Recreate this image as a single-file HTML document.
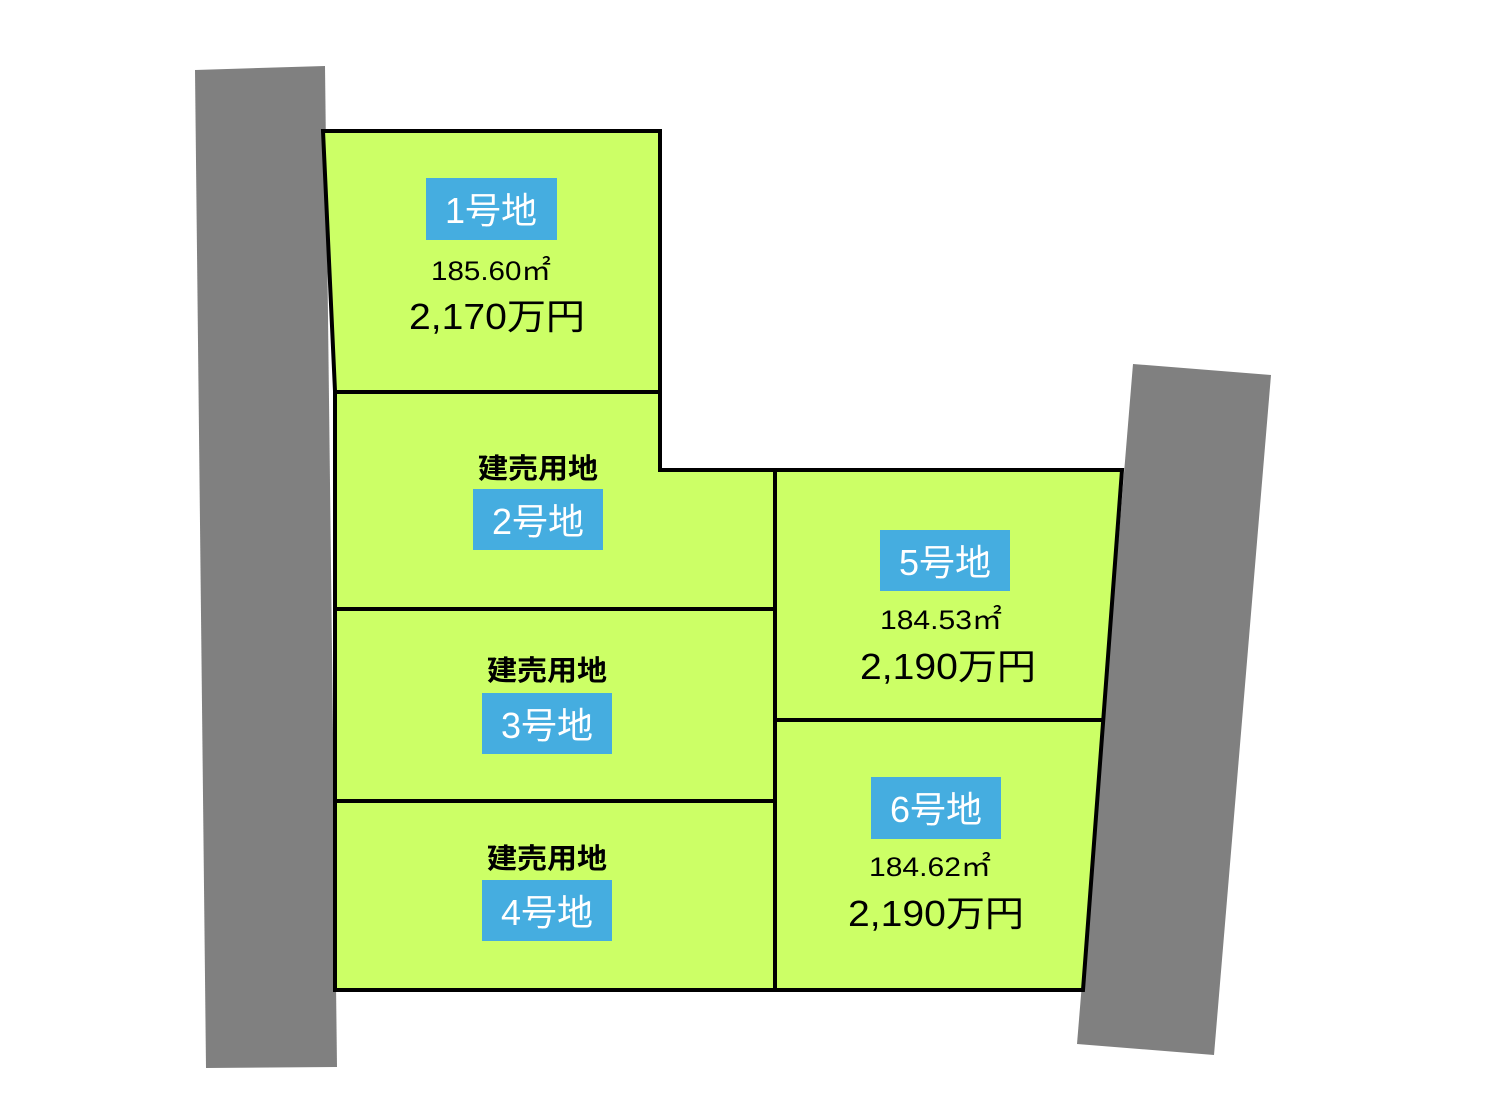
<!DOCTYPE html>
<html><head><meta charset="utf-8"><style>
html,body{margin:0;padding:0;background:#fff;}
svg{display:block;}
text{font-family:"Liberation Sans","Noto Sans CJK JP",sans-serif;}
</style></head><body>
<svg width="1500" height="1119" viewBox="0 0 1500 1119" xmlns="http://www.w3.org/2000/svg">
<rect width="1500" height="1119" fill="#fff"/>
<polygon points="195,70 325,66 337,1067 206,1068" fill="#808080"/>
<polygon points="1133,364 1271,375 1214,1055 1077,1044" fill="#808080"/>
<polygon points="323,131 660,131 660,470 1122,470 1083,990 335,990 335,391" fill="#ccff66" stroke="#000" stroke-width="4" stroke-linejoin="miter"/>
<g stroke="#000" stroke-width="4">
<line x1="335" y1="392" x2="660" y2="392"/>
<line x1="775" y1="470" x2="775" y2="990"/>
<line x1="335" y1="609" x2="775" y2="609"/>
<line x1="335" y1="801" x2="775" y2="801"/>
<line x1="775" y1="720" x2="1103" y2="720"/>
</g>
<g fill="#45ade0">
<rect x="426" y="178" width="131" height="62"/>
<rect x="473" y="489" width="130" height="61"/>
<rect x="482" y="693" width="130" height="61"/>
<rect x="482" y="880" width="130" height="61"/>
<rect x="880" y="530" width="130" height="61"/>
<rect x="871" y="777" width="130" height="62"/>
</g>
<g fill="#fff" font-size="36" text-anchor="middle">
<text x="491" y="223">1号地</text>
<text x="538" y="534">2号地</text>
<text x="547" y="738">3号地</text>
<text x="547" y="925">4号地</text>
<text x="945" y="575">5号地</text>
<text x="936" y="822">6号地</text>
</g>
<g fill="#000" font-size="28" font-weight="bold" text-anchor="middle">
<text x="538" y="478" textLength="120" lengthAdjust="spacingAndGlyphs">建売用地</text>
<text x="547" y="680" textLength="120" lengthAdjust="spacingAndGlyphs">建売用地</text>
<text x="547" y="868" textLength="120" lengthAdjust="spacingAndGlyphs">建売用地</text>
</g>
<g fill="#000" font-size="27" text-anchor="middle">
<text x="491" y="280" textLength="120" lengthAdjust="spacingAndGlyphs">185.60㎡</text>
<text x="941" y="629" textLength="122" lengthAdjust="spacingAndGlyphs">184.53㎡</text>
<text x="930" y="876" textLength="122" lengthAdjust="spacingAndGlyphs">184.62㎡</text>
</g>
<g fill="#000" font-size="36" text-anchor="middle">
<text x="497" y="329" textLength="176" lengthAdjust="spacingAndGlyphs">2,170万円</text>
<text x="948" y="679" textLength="176" lengthAdjust="spacingAndGlyphs">2,190万円</text>
<text x="936" y="926" textLength="176" lengthAdjust="spacingAndGlyphs">2,190万円</text>
</g>
</svg>
</body></html>
